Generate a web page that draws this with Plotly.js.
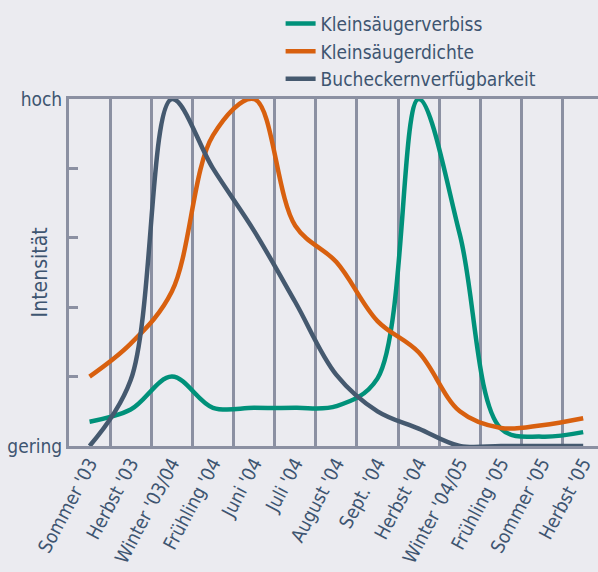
<!DOCTYPE html>
<html>
<head>
<meta charset="utf-8">
<script src="https://cdn.plot.ly/plotly-3.0.1.min.js"></script>
<style>
  html, body { margin: 0; padding: 0; background: #ebebf0; }
  #chart { width: 598px; height: 572px; }
</style>
</head>
<body>
<div id="chart"></div>
<script>
const categories = ["Sommer '03", "Herbst '03", "Winter '03/04", "Frühling '04", "Juni '04", "Juli '04", "August '04", "Sept. '04", "Herbst '04", "Winter '04/05", "Frühling '05", "Sommer '05", "Herbst '05"];
const verbiss = [7, 10.5, 20, 11, 11, 11, 11.5, 19.5, 100, 61, 5, 2.7, 4];
const dichte = [20, 29.5, 44.5, 89.5, 100, 63.5, 53, 36, 27, 10, 5.2, 6, 8];
const bucheckern = [0, 19, 100, 80, 62, 41.5, 20.5, 10, 5, 0, 0, 0, 0];
const seriesNames = ["Kleinsäugerverbiss", "Kleinsäugerdichte", "Bucheckernverfügbarkeit"];
const yTickVals = [0, 20, 40, 60, 80, 100];
const yTickText = ["gering", "", "", "", "", "hoch"];
const yTitle = "Intensität";

const FONT = "'Liberation Sans Narrow', 'DejaVu Sans Condensed', Roboto, sans-serif";
const TXT = "#3e5571";
const GRID = "#8b90a2";

const mk = (y, name, color) => ({
  type: "scatter", mode: "lines", x: categories, y: y, name: name,
  line: { color: color, width: 4.5, shape: "spline", smoothing: 1 },
  cliponaxis: false
});

const data = [
  mk(verbiss, seriesNames[0], "#00917a"),
  mk(dichte, seriesNames[1], "#d8600f"),
  mk(bucheckern, seriesNames[2], "#45596f")
];

const layout = {
  width: 598, height: 572,
  paper_bgcolor: "#ebebf0", plot_bgcolor: "#ebebf0",
  margin: { l: 69, r: 0, t: 99, b: 126 },
  font: { family: FONT, color: TXT, size: 19 },
  showlegend: true,
  legend: {
    x: 0.40, y: 1.272, xanchor: "left", yanchor: "top",
    bgcolor: "rgba(0,0,0,0)", font: { family: FONT, size: 19, color: TXT },
    tracegroupgap: 0, itemwidth: 30
  },
  xaxis: {
    type: "category", range: [-0.5, 12.36], fixedrange: true,
    tickson: "boundaries", showgrid: true, gridcolor: GRID, gridwidth: 3,
    showline: true, linecolor: GRID, linewidth: 3, mirror: true,
    ticks: "", tickangle: -62, ticklabelstandoff: -4,
    tickfont: { family: FONT, size: 19, color: TXT },
    zeroline: false
  },
  yaxis: {
    range: [0, 100], fixedrange: true,
    tickvals: yTickVals, ticktext: yTickText,
    ticks: "inside", ticklen: 9, tickwidth: 3, tickcolor: GRID,
    showline: true, linecolor: GRID, linewidth: 3,
    showgrid: false, zeroline: false,
    tickfont: { family: FONT, size: 19, color: TXT }
  },
  annotations: [{
    text: yTitle, xref: "paper", yref: "paper", x: -0.055, y: 0.5,
    xanchor: "center", yanchor: "middle", textangle: -90, showarrow: false,
    font: { family: FONT, size: 21, color: TXT }
  }]
};

Plotly.newPlot("chart", data, layout, { displayModeBar: false, staticPlot: true });
</script>
</body>
</html>
